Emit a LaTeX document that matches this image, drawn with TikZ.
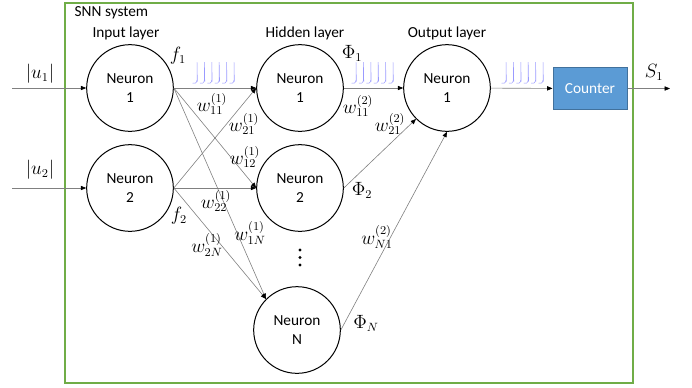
\documentclass[tikz,border=0pt]{standalone}
\usepackage{fontspec}
\setmainfont{Carlito}
\usetikzlibrary{arrows.meta}

\definecolor{framegreen}{HTML}{70AD47}
\definecolor{boxblue}{HTML}{5B9BD5}
\definecolor{boxedge}{HTML}{41719C}
\definecolor{spikeblue}{HTML}{9A9AFF}

\newcommand{\spiketrain}[1]{%
  \foreach \k in {0,...,5}
    \draw[spike] ({#1+7.4*\k-4.5},83) .. controls ({#1+7.4*\k-2.5},84) and ({#1+7.4*\k-0.6},83.5) .. ({#1+7.4*\k},80)
      -- ({#1+7.4*\k},62) -- ({#1+7.4*\k+0.4},81.5);
}

\begin{document}
\begin{tikzpicture}
[x=0.75pt,y=-0.75pt,%
  font=\fontsize{11.5}{14}\selectfont,%
  neuron/.style={shape=circle,draw,line width=0.75pt,minimum size=65pt,inner sep=0pt,align=center},%
  link/.style={draw=gray,line width=0.45pt,-{Triangle[length=4pt,width=3.2pt,black]}},%
  mlbl/.style={font=\fontsize{13.5}{16}\selectfont,inner sep=0pt},%
  spike/.style={draw=spikeblue,line width=0.35pt}]
\useasboundingbox (0,0) rectangle (692,387);
\draw[draw=framegreen,line width=0.9pt] (65,3) rectangle (633,383);

% neurons
\node[neuron] (in1) at (130,88) {Neuron\\1};
\node[neuron] (in2) at (130,188) {Neuron\\2};
\node[neuron] (hid1) at (300,88) {Neuron\\1};
\node[neuron] (hid2) at (300,188) {Neuron\\2};
\node[neuron] (hidN) at (297,330) {Neuron\\N};
\node[neuron] (out) at (447,88) {Neuron\\1};
\node[draw=boxedge,fill=boxblue,text=white,line width=0.75pt,
  minimum width=55.5pt,minimum height=32pt] (cnt) at (590,88.5) {Counter};
\foreach \d in {250,257.5,265}
  \fill (300,\d) circle (1.6);

% titles
\node[anchor=west] (sys) at (70,13) {SNN system};
\node (inlayer) at (126,33) {Input layer};
\node (hidlayer) at (305,33) {Hidden layer};
\node (outlayer) at (447,33) {Output layer};

% ends
\coordinate (u1) at (12,88);
\coordinate (u2) at (12,188);
\coordinate (s1) at (670,88.5);

% connectors
\draw[link] (u1) -- (in1);
\draw[link] (u2) -- (in2);
\foreach \a in {in1,in2}{
  \draw[link] (\a.east) -- (hid1.west);
  \draw[link] (\a.east) -- (hid2.west);
  \draw[link] (\a.east) -- (hidN.135);
}
\draw[link] (hid1.east) -- (out.west);
\draw[link] (hid2.east) -- (out.225);
\draw[link] (hidN.east) -- (out.south);
\draw[link] (out) -- (cnt);
\draw[link] (cnt) -- (s1);

% spikes
\spiketrain{197}
\spiketrain{356}
\spiketrain{506}

% labels
\node[mlbl] (u1lbl) at (40,74) {$|u_1|$};
\node[mlbl] (u2lbl) at (40,170) {$|u_2|$};
\node[mlbl] (s1lbl) at (654,72) {$S_1$};
\node[mlbl] (f1) at (178,56) {$f_1$};
\node[mlbl] (f2) at (179,216) {$f_2$};
\node[mlbl] (w111) at (212,104) {$w_{11}^{(1)}$};
\node[mlbl] (w211) at (244,124) {$w_{21}^{(1)}$};
\node[mlbl] (w121) at (245,157) {$w_{12}^{(1)}$};
\node[mlbl] (w221) at (216,201) {$w_{22}^{(1)}$};
\node[mlbl] (w1N1) at (250,233) {$w_{1N}^{(1)}$};
\node[mlbl] (w2N1) at (207,245) {$w_{2N}^{(1)}$};
\node[mlbl] (w112) at (358,106) {$w_{11}^{(2)}$};
\node[mlbl] (w212) at (390,124) {$w_{21}^{(2)}$};
\node[mlbl] (wN12) at (377,237) {$w_{N1}^{(2)}$};
\node[mlbl] (phi1) at (352,53) {$\Phi_1$};
\node[mlbl] (phi2) at (362,190) {$\Phi_2$};
\node[mlbl] (phiN) at (366,323) {$\Phi_N$};
\end{tikzpicture}
\end{document}
